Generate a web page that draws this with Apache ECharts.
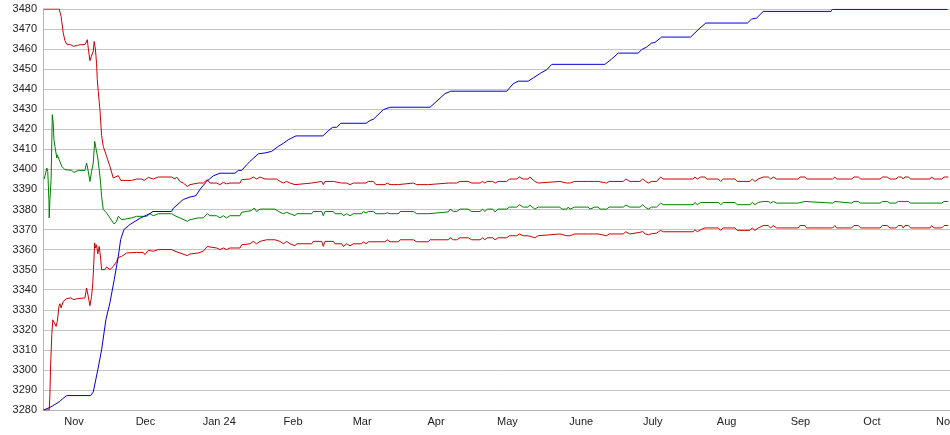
<!DOCTYPE html>
<html>
<head>
<meta charset="utf-8">
<script src="https://cdn.jsdelivr.net/npm/echarts@6/dist/echarts.min.js"></script>
<style>html,body{margin:0;padding:0;background:#fff;overflow:hidden;}#c{width:950px;height:435px;}</style>
</head>
<body>
<div id="c"></div>
<script>
// x values are days after START_DATE (fractional where the source moves within a day)
const START_DATE = '2023-10-19';
const tickDates = ['2023-11-01','2023-12-01','2024-01-01','2024-02-01','2024-03-01','2024-04-01','2024-05-01','2024-06-01','2024-07-01','2024-08-01','2024-09-01','2024-10-01','2024-11-01'];
const tickLabels = ['Nov','Dec','Jan 24','Feb','Mar','Apr','May','June','July','Aug','Sep','Oct','Nov'];
const yTicks = {min: 3280, max: 3480, step: 10};

const blueLine = [[0.3,3280],[2.9,3281.3],[4.1,3282.1],[7.1,3284.3],[8.1,3285.5],[10.0,3287.2],[20.0,3287.2],[21.1,3289],[23.0,3300],[24.6,3310],[26.4,3325],[28.1,3333.5],[29.9,3345],[31.6,3356.5],[32.6,3365],[34.0,3370],[36.5,3372.5],[40.7,3375.6],[44.9,3378],[46.2,3379],[54.0,3379],[54.7,3380.6],[58.9,3385],[61.7,3386.2],[64.2,3386.9],[65.9,3390],[68.7,3394],[71.5,3396.8],[74.3,3398.1],[80.6,3398.1],[82.0,3399.5],[83.4,3399.5],[85.5,3402.3],[86.9,3404],[90.4,3407.8],[93.2,3408.2],[96.0,3409],[98.8,3411.5],[100.9,3413],[103.0,3414.8],[106.2,3416.7],[117.5,3416.7],[120.5,3420],[121.6,3421],[123.3,3421],[125.0,3423],[135.6,3423],[137.3,3424.4],[138.7,3425],[142.9,3429.8],[145.7,3431],[162.5,3431],[168.8,3437.8],[171.2,3439],[194.7,3439],[197.4,3442.7],[199.5,3444],[203.7,3444],[205.8,3445.6],[208.9,3448],[211.5,3449.7],[213.6,3452.4],[235.9,3452.4],[238.7,3455],[241.5,3458],[249.9,3458],[251.3,3459.7],[253.4,3461],[255.5,3463],[256.9,3463.3],[259.7,3466],[271.9,3466],[275.8,3470.5],[278.3,3473],[295.8,3473],[297.5,3475],[299.6,3475.5],[302.4,3478.8],[330.8,3478.8],[331.4,3479.8],[379.8,3479.8]];

const redUpper = [[0.3,3480],[6.8,3480],[7.6,3476.3],[8.5,3468],[9.2,3464.3],[9.9,3462.5],[11.6,3462.2],[12.7,3461.4],[14.4,3461.8],[15.5,3462.2],[17.6,3462.2],[18.6,3464.7],[19.0,3460.5],[19.7,3454.2],[20.3,3456.4],[21.1,3458.9],[21.5,3463.8],[22.0,3460],[22.5,3452.7],[22.8,3444.7],[23.2,3438.9],[23.9,3429.8],[24.6,3417],[25.3,3411.5],[26.7,3406.5],[28.1,3401.5],[29.5,3395.7],[30.2,3395.7],[31.6,3396.9],[32.7,3394.5],[37.2,3394.5],[39.3,3395.2],[41.4,3395.2],[42.5,3394.5],[44.2,3396],[44.9,3396.2],[46.3,3395.2],[48.4,3396.2],[54.0,3396.2],[55.4,3395.2],[56.1,3396.2],[57.5,3394],[58.9,3393.2],[60.6,3391.5],[61.7,3392.4],[65.2,3393.2],[65.9,3392.4],[67.3,3393.2],[69.0,3394.9],[70.1,3393.2],[72.9,3393.2],[74.3,3392.4],[75.7,3393.5],[77.1,3392.8],[78.5,3393.2],[82.7,3393.2],[83.4,3394.9],[86.9,3395.2],[88.3,3396.2],[89.7,3395.2],[91.1,3396.2],[93.2,3395.2],[98.1,3395.2],[99.5,3394],[100.9,3393.2],[102.3,3394],[103.7,3393.2],[105.8,3392.4],[106.5,3393.2],[112.8,3393.2],[113.5,3394],[117.0,3394],[117.7,3392.4],[118.4,3394],[121.9,3394],[122.6,3393.2],[125.4,3393.2],[126.1,3392.4],[127.5,3393.2],[128.9,3392.4],[130.3,3393.2],[133.8,3393.2],[134.5,3394],[135.6,3393.2],[136.6,3394],[138.7,3394],[139.8,3392.4],[143.6,3392.4],[144.5,3393.2],[145.7,3392.4],[149.2,3392.4],[149.9,3393.2],[155.5,3393.2],[156.9,3392.4],[161.8,3392.4],[162.5,3393.2],[170.2,3393.2],[170.9,3394],[172.3,3393.2],[173.7,3393.2],[175.1,3394],[178.5,3394],[180.0,3393.2],[183.5,3393.2],[184.6,3394],[185.5,3393.2],[186.5,3394],[188.8,3394],[189.8,3393.2],[191.1,3394],[194.7,3394],[195.8,3395.2],[198.9,3395.2],[200.0,3396.2],[201.6,3395.2],[203.7,3395.2],[204.4,3396.2],[206.5,3394],[207.9,3393.2],[208.7,3394],[217.0,3394],[217.8,3393.2],[219.9,3393.2],[220.5,3394],[221.2,3393.2],[223.3,3394],[228.9,3394],[229.6,3393.2],[231.7,3394],[233.1,3394],[233.8,3393.2],[236.6,3393.2],[237.7,3394],[243.6,3394],[244.7,3395.2],[246.4,3394],[250.6,3394],[251.8,3395.2],[253.1,3394],[254.1,3393.2],[255.5,3394],[257.6,3394],[259.3,3396.2],[260.4,3395.2],[273.0,3395.2],[273.7,3396.2],[274.7,3395.2],[276.1,3396.2],[277.9,3396.2],[278.6,3395.2],[283.5,3395.2],[284.5,3394],[285.6,3395.2],[290.5,3395.2],[291.5,3394],[296.8,3394],[297.8,3395.2],[298.9,3394],[300.3,3395.2],[302.4,3396.2],[304.5,3396.2],[305.5,3395.2],[306.6,3396.2],[308.0,3395.2],[317.1,3395.2],[317.8,3396.2],[319.9,3396.2],[320.6,3395.2],[331.5,3395.2],[332.5,3396.2],[333.2,3395.2],[339.5,3395.2],[340.5,3396.2],[342.3,3396.2],[343.3,3395.2],[351.4,3395.2],[352.5,3396.2],[354.4,3396.2],[355.6,3395.2],[358.1,3395.2],[359.1,3396.2],[360.5,3396.2],[361.2,3395.2],[361.9,3396.2],[363.3,3396.2],[364.3,3395.2],[372.4,3395.2],[373.1,3396.2],[374.1,3395.2],[377.3,3395.2],[378.3,3396.2],[380.1,3396.2]];

const greenMid = [[0.5,3395.2],[1.6,3400.7],[2.0,3399],[2.2,3393.2],[2.5,3384],[2.6,3375.8],[2.9,3384.9],[3.4,3394.9],[3.7,3414],[3.9,3427.3],[4.3,3423.1],[4.6,3414.8],[5.0,3411.5],[5.8,3405.7],[6.0,3407.3],[6.4,3406.5],[6.8,3408.2],[7.9,3401.5],[9.2,3399.9],[12.0,3399.5],[13.0,3398.5],[14.8,3399.5],[17.6,3399.5],[18.3,3403.2],[19.0,3399],[19.7,3394],[20.4,3399],[21.1,3403.2],[21.7,3414],[22.2,3410.7],[23.0,3405.7],[23.6,3399.9],[24.2,3393.2],[24.6,3386.5],[25.3,3380],[26.7,3378.3],[28.1,3375.8],[29.8,3372.8],[30.9,3374.1],[31.6,3376.6],[33.0,3374.9],[37.2,3375.8],[39.3,3376.6],[43.5,3376.6],[44.9,3377.9],[46.3,3376.9],[48.4,3377.9],[54.0,3377.9],[55.4,3376.9],[57.5,3375.8],[60.6,3374.1],[61.7,3374.9],[65.2,3375.8],[65.9,3374.9],[67.3,3375.8],[69.0,3377.9],[70.1,3376.9],[72.9,3376.9],[74.3,3375.8],[75.7,3376.9],[77.1,3375.8],[78.5,3376.9],[82.7,3376.9],[83.4,3378.6],[85.5,3379],[87.6,3379.5],[88.6,3380.7],[89.7,3379],[91.1,3380.2],[97.4,3380.2],[99.5,3378.6],[100.9,3377.9],[102.3,3378.6],[103.7,3377.9],[105.8,3376.9],[106.5,3377.9],[112.8,3377.9],[113.5,3379],[117.0,3379],[117.7,3376.9],[118.4,3379],[121.9,3379],[122.6,3377.9],[125.4,3377.9],[126.1,3376.9],[127.5,3377.9],[128.9,3376.9],[130.3,3377.9],[133.8,3377.9],[134.5,3379],[135.6,3378.3],[136.6,3379],[138.7,3379],[139.8,3377.9],[143.6,3377.9],[144.5,3378.4],[145.7,3377.9],[149.2,3377.9],[149.9,3379],[155.5,3379],[156.9,3377.9],[161.8,3377.9],[162.5,3378.8],[170.2,3378.8],[170.9,3380.2],[172.3,3379],[173.7,3379],[175.1,3380.2],[178.5,3380.2],[180.0,3379],[183.5,3379],[184.6,3380.2],[185.5,3379],[186.5,3380.2],[188.8,3380.2],[189.8,3378.8],[191.1,3380.2],[194.7,3380.2],[195.8,3381.2],[198.9,3381.2],[200.0,3382.4],[201.6,3381.2],[203.7,3381.2],[204.4,3382.2],[206.5,3380.2],[207.9,3381.2],[217.0,3381.2],[217.8,3380.2],[219.9,3380.2],[220.5,3381.2],[221.2,3380.2],[223.3,3381.2],[228.9,3381.2],[229.6,3380.2],[231.7,3381.2],[233.1,3381.2],[233.8,3380.2],[236.6,3380.2],[237.7,3381.2],[243.6,3381.2],[244.7,3382.2],[246.4,3381.2],[250.6,3381.2],[251.8,3382.4],[252.8,3381.2],[254.1,3380.2],[255.5,3381.2],[257.6,3381.2],[259.3,3383.2],[260.4,3382.4],[273.0,3382.4],[273.7,3383.5],[274.7,3382.4],[276.1,3383.5],[283.5,3383.5],[284.5,3382.4],[285.6,3383.5],[290.5,3383.5],[291.5,3382.4],[296.8,3382.4],[297.8,3383.5],[298.9,3382.4],[300.3,3383.5],[302.4,3384],[304.5,3384],[305.5,3383.2],[306.6,3384],[308.0,3383.2],[317.1,3383.2],[317.8,3384],[319.9,3384],[320.6,3383.2],[331.5,3383.2],[332.5,3384],[333.2,3383.2],[339.5,3383.2],[340.5,3384],[342.3,3384],[343.3,3383.2],[351.4,3383.2],[352.5,3384],[354.4,3384],[355.6,3383.2],[358.1,3383.2],[359.1,3384],[360.5,3384],[361.2,3383.2],[361.9,3384],[363.3,3384],[364.3,3383.2],[372.4,3383.2],[373.1,3384],[374.1,3383.2],[377.3,3383.2],[378.3,3384],[380.1,3384]];

const redLower = [[0.3,3280],[2.6,3280],[2.9,3287.6],[3.2,3302.6],[3.7,3317.6],[4.1,3325],[4.7,3323.7],[5.5,3321.7],[6.0,3324.2],[6.7,3331.7],[7.1,3333],[7.6,3330.9],[8.5,3334.2],[9.9,3335.5],[11.6,3335.9],[13.0,3335],[14.1,3335.5],[17.6,3335.9],[18.3,3340.8],[19.0,3336.7],[19.7,3332],[20.4,3336.7],[20.9,3343.3],[21.2,3350],[21.7,3363.3],[22.1,3360.8],[22.5,3362.4],[23.0,3357.9],[23.6,3361.6],[24.2,3355.8],[24.6,3350],[26.0,3350],[26.7,3351.3],[28.1,3350],[29.5,3351.6],[30.9,3354.1],[31.6,3356.1],[33.0,3356.6],[35.1,3358.3],[39.3,3358.6],[42.1,3358.6],[42.8,3357.5],[44.2,3359.6],[44.9,3360],[46.3,3359.2],[48.4,3360],[54.0,3360],[55.4,3359.2],[57.5,3358.3],[60.6,3357],[61.7,3357.8],[65.2,3358.3],[65.9,3357.5],[67.3,3359.2],[69.0,3361.6],[70.1,3361.3],[72.9,3360.8],[74.3,3360],[75.7,3360.8],[77.1,3360],[78.5,3360.8],[82.7,3360.8],[83.4,3362.4],[86.9,3362.9],[88.3,3364.1],[89.7,3362.9],[91.1,3364.1],[93.9,3364.9],[97.4,3364.9],[99.5,3364.1],[100.9,3362.9],[102.3,3364.1],[103.7,3362.9],[105.8,3361.9],[106.5,3362.9],[112.8,3362.9],[113.5,3364.1],[117.0,3364.1],[117.7,3361.6],[118.4,3364.1],[121.9,3364.1],[122.6,3362.9],[125.4,3362.9],[126.1,3361.6],[127.5,3362.9],[128.9,3361.9],[130.3,3362.9],[133.8,3362.9],[134.5,3363.9],[135.6,3362.9],[136.6,3363.9],[143.6,3363.9],[144.5,3364.9],[145.7,3363.9],[149.2,3363.9],[149.9,3364.9],[155.5,3364.9],[156.9,3363.9],[161.8,3363.9],[162.5,3364.9],[170.2,3364.9],[170.9,3365.9],[172.3,3364.9],[173.7,3364.9],[175.1,3365.9],[178.5,3365.9],[180.0,3364.9],[183.5,3364.9],[184.6,3365.9],[185.5,3364.9],[186.5,3365.9],[188.8,3365.9],[189.8,3364.9],[191.1,3365.9],[194.7,3365.9],[195.8,3366.9],[198.9,3366.9],[200.0,3367.8],[201.6,3366.9],[203.7,3366.9],[204.4,3367.8],[206.5,3365.9],[207.9,3366.9],[208.7,3367.8],[217.0,3367.8],[217.8,3366.9],[219.9,3366.9],[220.5,3367.8],[221.2,3366.9],[223.3,3367.8],[228.9,3367.8],[229.6,3366.9],[231.7,3367.8],[233.1,3367.8],[233.8,3366.9],[236.6,3366.9],[237.7,3367.8],[243.6,3367.8],[244.7,3368.9],[246.4,3367.8],[250.6,3368.6],[251.8,3369],[252.8,3367.9],[254.1,3367.4],[255.5,3367.9],[257.6,3368.2],[259.3,3369.6],[260.4,3368.9],[273.0,3368.9],[273.7,3369.9],[274.7,3368.9],[276.1,3369.9],[277.9,3370.8],[283.5,3370.8],[284.5,3369.6],[285.6,3370.8],[290.5,3370.8],[291.5,3369.6],[296.8,3369.6],[297.8,3370.8],[298.9,3369.6],[300.3,3370.8],[302.4,3372],[304.5,3372],[305.5,3370.8],[306.6,3372],[308.0,3370.8],[317.1,3370.8],[317.8,3372],[319.9,3372],[320.6,3370.8],[331.5,3370.8],[332.5,3372],[333.2,3370.8],[339.5,3370.8],[340.5,3372],[342.3,3372],[343.3,3370.8],[351.4,3370.8],[352.5,3372],[354.4,3372],[355.6,3370.8],[358.1,3370.8],[359.1,3372],[360.5,3372],[361.2,3370.8],[361.9,3372],[363.3,3372],[364.3,3370.8],[372.4,3370.8],[373.1,3372],[374.1,3370.8],[377.3,3370.8],[378.3,3372],[380.1,3372]];

const DAY = 86400000;
const startMs = Date.parse(START_DATE);
const tickOffsets = tickDates.map(s => Math.round((Date.parse(s) - startMs) / DAY));
const xMax = 380.8;

const chart = echarts.init(document.getElementById('c'), null, {renderer: 'canvas'});
const mk = (name, data, color) => ({
  name, type: 'line', data, showSymbol: false, symbol: 'none', smooth: false,
  lineStyle: {color, width: 1}, itemStyle: {color}, animation: false, silent: true
});
chart.setOption({
  animation: false,
  backgroundColor: '#ffffff',
  grid: {left: 43, right: 0, top: 9, bottom: 25, containLabel: false, outerBoundsMode: 'none'},
  xAxis: {
    type: 'value', min: 0, max: xMax,
    splitLine: {show: false},
    axisLine: {show: true, lineStyle: {color: '#b4b4b4', width: 1}},
    axisTick: {show: false},
    axisLabel: {
      customValues: tickOffsets,
      margin: 6, hideOverlap: false,
      color: '#222', fontSize: 11, fontFamily: 'Liberation Sans, Arial, sans-serif',
      formatter: v => { const i = tickOffsets.indexOf(Math.round(v)); return i >= 0 ? tickLabels[i] : ''; }
    }
  },
  yAxis: {
    type: 'value', min: yTicks.min, max: yTicks.max, interval: yTicks.step,
    axisLine: {show: true, lineStyle: {color: '#b4b4b4', width: 1}},
    axisTick: {show: false},
    splitLine: {show: true, lineStyle: {color: '#c4c4c4', width: 1}},
    axisLabel: {margin: 6, color: '#222', fontSize: 11, fontFamily: 'Liberation Sans, Arial, sans-serif',
      formatter: v => String(v)}
  },
  series: [
    mk('Upper', redUpper, '#cc0000'),
    mk('Lower', redLower, '#cc0000'),
    mk('Forecast', greenMid, '#008000'),
    mk('Actual', blueLine, '#0000cc')
  ]
});
</script>
</body>
</html>
